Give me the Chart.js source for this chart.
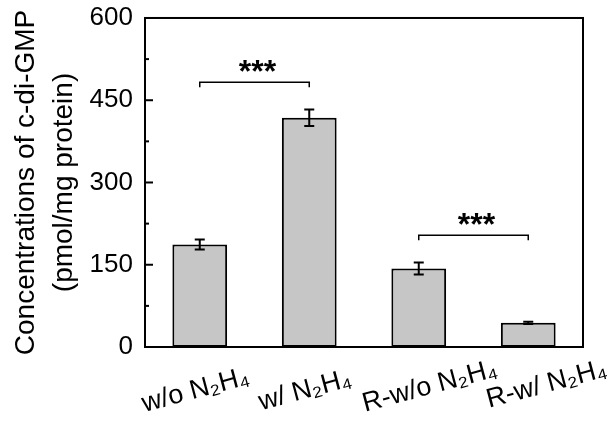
<!DOCTYPE html>
<html>
<head>
<meta charset="utf-8">
<script src="https://cdn.jsdelivr.net/npm/chart.js@4"></script>
<style>
  html, body { margin: 0; padding: 0; background: #fff; }
  #wrap { width: 610px; height: 425px; }
</style>
</head>
<body>
<div id="wrap"><canvas id="grafica"></canvas></div>
<script>
// datos
var categorias = ['w/o N\u2082H\u2084', 'w/ N\u2082H\u2084', 'R-w/o N\u2082H\u2084', 'R-w/ N\u2082H\u2084'];
var valores    = [187, 418, 143, 44];
var errores    = [9, 15, 11, 2];
var ticksY     = [0, 150, 300, 450, 600];
var parejasSig = [[0, 1], [2, 3]];
var alturasSig = [483, 204];
var etiquetasSig = ['***', '***'];

var fuente = 'Liberation Sans, Arial, sans-serif';

// marco, ticks hacia dentro, barras de error y corchetes de significancia
var extras = {
	id: 'extras',
	afterDatasetsDraw: function(chart) {
		var ctx = chart.ctx;
		var area = chart.chartArea;
		var y = chart.scales.y;
		var meta = chart.getDatasetMeta(0);
		ctx.save();
		ctx.strokeStyle = '#000';
		ctx.lineWidth = 2;

		// barras de error
		for (var i = 0; i < valores.length; i++) {
			var x = meta.data[i].x;
			var yt = y.getPixelForValue(valores[i] + errores[i]);
			var yb = y.getPixelForValue(valores[i] - errores[i]);
			ctx.beginPath();
			ctx.moveTo(x, yt); ctx.lineTo(x, yb);
			ctx.moveTo(x - 5, yt); ctx.lineTo(x + 5, yt);
			ctx.moveTo(x - 5, yb); ctx.lineTo(x + 5, yb);
			ctx.stroke();
		}

		// marco
		ctx.strokeRect(area.left, area.top, area.right - area.left, area.bottom - area.top);

		// ticks hacia dentro (mayores y menores)
		for (var v = 0; v <= 600; v += 75) {
			var py = y.getPixelForValue(v);
			var largo = (v % 150 === 0) ? 8 : 4;
			ctx.beginPath();
			ctx.moveTo(area.left, py);
			ctx.lineTo(area.left + largo, py);
			ctx.stroke();
		}

		// corchetes
		ctx.lineWidth = 1.5;
		ctx.fillStyle = '#000';
		ctx.font = 'bold 32px ' + fuente;
		ctx.textAlign = 'center';
		ctx.textBaseline = 'alphabetic';
		for (var j = 0; j < parejasSig.length; j++) {
			var x1 = meta.data[parejasSig[j][0]].x;
			var x2 = meta.data[parejasSig[j][1]].x;
			var by = y.getPixelForValue(alturasSig[j]);
			ctx.beginPath();
			ctx.moveTo(x1, by + 5); ctx.lineTo(x1, by);
			ctx.lineTo(x2, by); ctx.lineTo(x2, by + 5);
			ctx.stroke();
			ctx.fillText(etiquetasSig[j], (x1 + x2) / 2 + 3, by);
		}
		ctx.restore();
	}
};

var ctx = document.getElementById('grafica').getContext('2d');
var chart = new Chart(ctx, {
	type: 'bar',
	data: {
		labels: categorias,
		datasets: [{
			data: valores,
			backgroundColor: '#c6c6c6',
			borderColor: '#000',
			borderWidth: 2,
			borderSkipped: false,
			categoryPercentage: 1,
			barPercentage: 0.5
		}]
	},
	options: {
		responsive: true,
		maintainAspectRatio: false,
		animation: false,
		layout: { padding: { top: 0, right: 27, left: 0, bottom: 0 } },
		plugins: {
			legend: { display: false },
			tooltip: { enabled: false }
		},
		scales: {
			x: {
				grid: { display: false, drawTicks: false },
				border: { display: false },
				ticks: {
					color: '#000',
					font: { family: fuente, size: 27 },
					minRotation: 15,
					maxRotation: 15,
					autoSkip: false,
					labelOffset: 78,
					padding: 6,
					// las dos primeras etiquetas quedan algo mas a la izquierda en el original
					callback: function(v, i) {
						return categorias[i] + (i === 0 ? '    ' : i === 1 ? '     ' : '');
					}
				},
				afterFit: function(scale) { scale.height = 78; }
			},
			y: {
				min: 0,
				max: 600,
				afterBuildTicks: function(scale) {
					scale.ticks = ticksY.map(function(v) { return { value: v }; });
				},
				grid: { display: false, drawTicks: false },
				border: { display: false },
				ticks: {
					color: '#000',
					font: { family: fuente, size: 26, lineHeight: 0.46 },
					padding: 12
				},
				title: {
					display: true,
					text: ['Concentrations of c-di-GMP', '(pmol/mg protein)'],
					color: '#000',
					font: { family: fuente, size: 28, lineHeight: 1.36 },
					padding: { top: 7, bottom: 0 }
				},
				afterFit: function(scale) { scale.width = 145; }
			}
		}
	},
	plugins: [extras]
});
</script>
</body>
</html>
